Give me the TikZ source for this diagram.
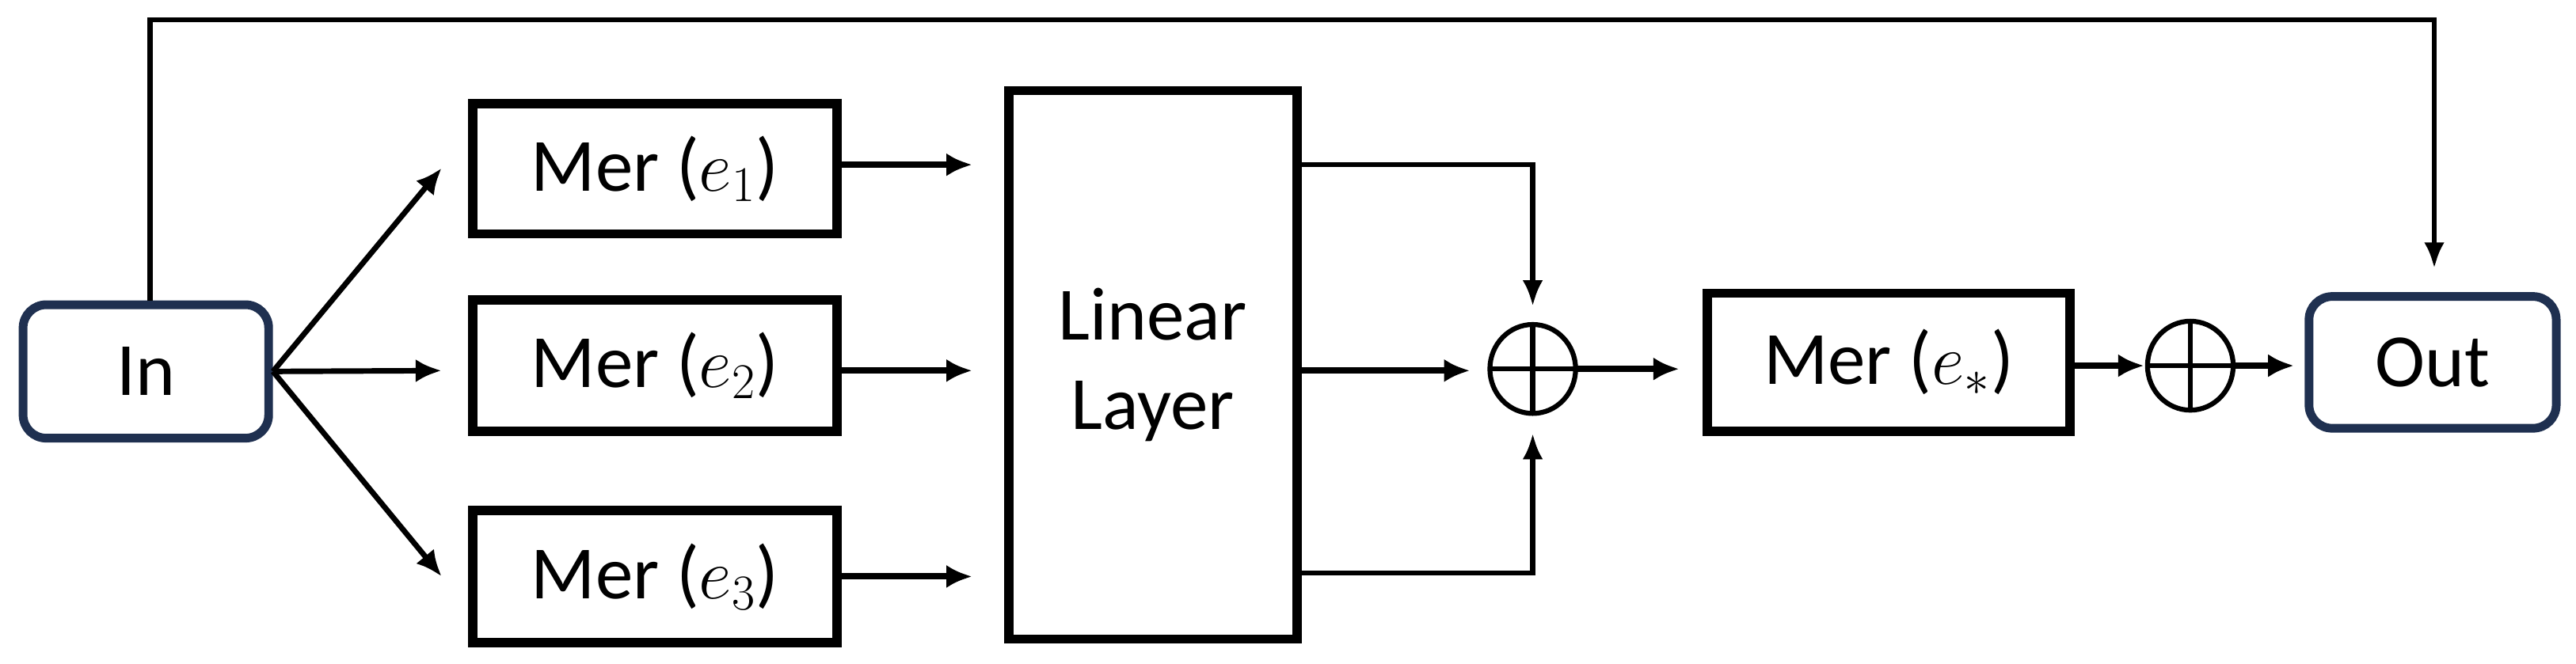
\documentclass[tikz,border=0pt]{standalone}
\usepackage{fontspec}
\setmainfont{Carlito}
\usetikzlibrary{arrows.meta}
\definecolor{navy}{HTML}{1F3050}
\begin{document}
\begin{tikzpicture}[x=0.02cm,y=-0.02cm,
  box/.style={draw,line width=3.2pt,inner sep=0,font=\fontsize{26}{31}\selectfont,align=center},
  term/.style={draw=navy,line width=3pt,rounded corners=8pt,inner sep=0,font=\fontsize{26}{31}\selectfont},
  arr/.style={line width=2.2pt,-{Latex[length=9pt,width=8pt]}},
  thin/.style={line width=1.7pt},
  tarr/.style={line width=1.7pt,-{Latex[length=9pt,width=7pt]}}]
\useasboundingbox (0,0) rectangle (1563,402.7);
\node[term,minimum width=149*0.02cm,minimum height=81*0.02cm] (in) at (88.5,225.5) {In};
\node[term,minimum width=150*0.02cm,minimum height=80*0.02cm] (out) at (1476,220) {Out};
\node[box,minimum width=221*0.02cm,minimum height=79*0.02cm] (m1) at (397.5,102.5) {Mer ($e_1$)};
\node[box,minimum width=221*0.02cm,minimum height=80*0.02cm] (m2) at (397.5,222) {Mer ($e_2$)};
\node[box,minimum width=221*0.02cm,minimum height=80*0.02cm] (m3) at (397.5,350) {Mer ($e_3$)};
\node[box,minimum width=175*0.02cm,minimum height=333*0.02cm] (ll) at (699.5,221.5) {Linear\\Layer};
\node[box,minimum width=220*0.02cm,minimum height=84*0.02cm] (ms) at (1146,220) {Mer ($e_*$)};
\coordinate (c1) at (930,224);
\coordinate (c2) at (1329,222);
\draw[thin] (c1) ellipse [x radius=26,y radius=27];
\draw[thin] (c1)+(-26,0) -- +(26,0) (c1)+(0,-27) -- +(0,27);
\draw[thin] (c2) ellipse [x radius=26,y radius=27];
\draw[thin] (c2)+(-26,0) -- +(26,0) (c2)+(0,-27) -- +(0,27);
\coordinate (a1) at (268,102); \coordinate (a2) at (268,225); \coordinate (a3) at (268,350);
\draw[arr,line width=1.9pt] (in.east) -- (a1);
\draw[arr,line width=1.9pt] (in.east) -- (a2);
\draw[arr,line width=1.9pt] (in.east) -- (a3);
\coordinate (b1) at (590,100); \coordinate (b2) at (590,225); \coordinate (b3) at (590,350);
\draw[arr] (m1.east |- b1) -- (b1);
\draw[arr] (m2.east |- b2) -- (b2);
\draw[arr] (m3.east |- b3) -- (b3);
\draw[tarr] (ll.east |- 0,100) -- (930,100) -- (930,186);
\draw[arr] (ll.east |- 0,225) -- (892,225);
\draw[tarr] (ll.east |- 0,348) -- (930,348) -- (930,263);
\draw[arr] (956,224) -- (1019,224);
\draw[arr] (ms.east |- c2) -- (1301,222);
\draw[arr] (1355,222) -- (1392,222);
\draw[tarr] (in.north -| 91,0) -- (91,12) -- (1477,12) -- (1477,163);
\end{tikzpicture}
\end{document}
